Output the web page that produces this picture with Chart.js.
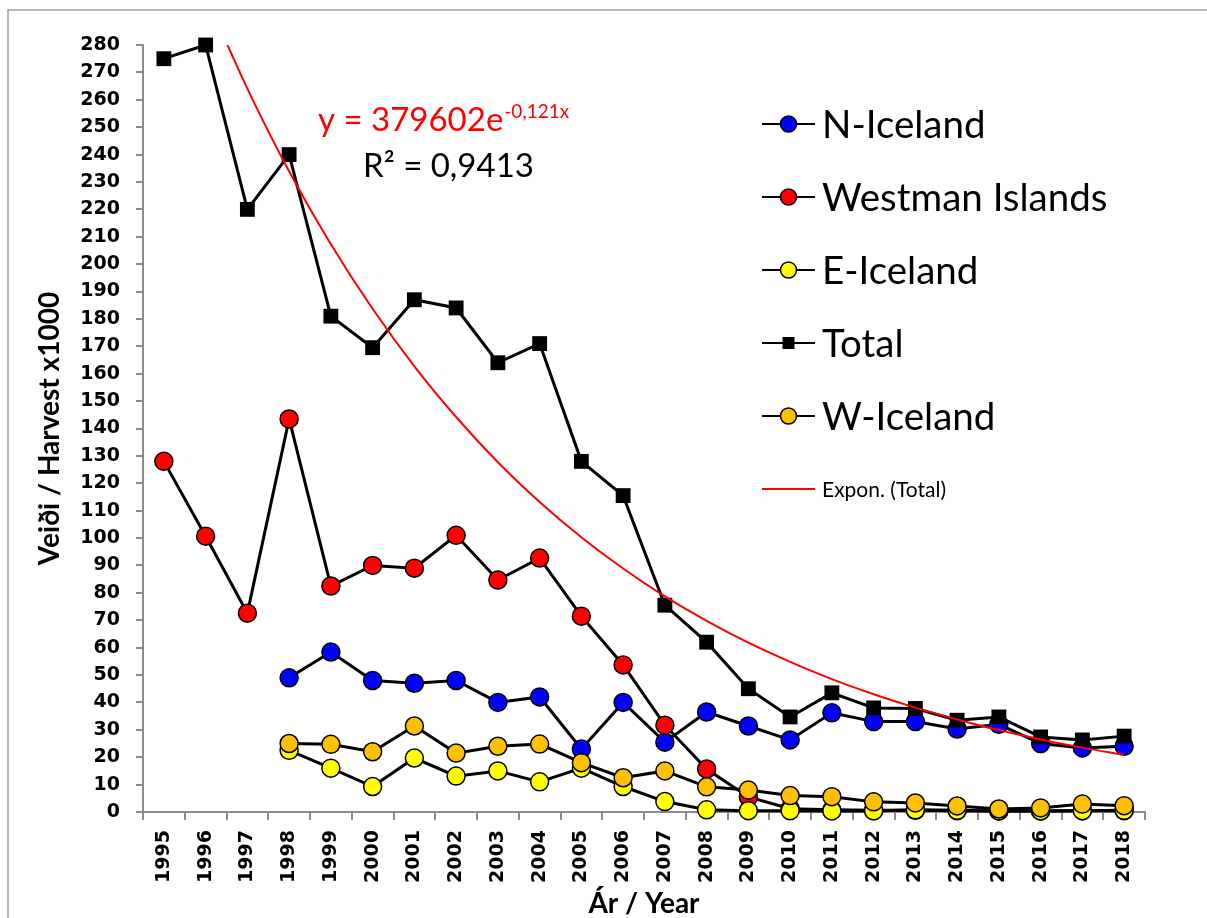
<!DOCTYPE html>
<html>
<head>
<meta charset="utf-8">
<title>Harvest by region</title>
<script src="https://cdn.jsdelivr.net/npm/chart.js@4.4.1/dist/chart.umd.min.js"></script>
<style>
  body { margin: 0; background: #fff; }
  #wrap { position: relative; width: 1207px; height: 918px; }
</style>
</head>
<body>
<div id="wrap"><canvas id="harvestChart" width="1207" height="918"></canvas></div>
<script>
// categories
const years = ['1995', '1996', '1997', '1998', '1999', '2000', '2001', '2002', '2003', '2004', '2005', '2006',
    '2007', '2008', '2009', '2010', '2011', '2012', '2013', '2014', '2015', '2016', '2017', '2018'];

// harvest x1000
const nIceland = [null, null, null, 49, 58.4, 48, 47, 48, 40, 42, 23, 40,
    25.5, 36.5, 31.4, 26.3, 36.2, 33, 33, 30.3, 32, 25, 23.4, 24];
const westman = [128, 100.7, 72.6, 143.5, 82.5, 90, 89, 101, 84.7, 92.7, 71.5, 53.7,
    31.7, 15.7, 5.5, 1.2, 0.8, 0.6, 0.6, 0.5, 0.4, 0.4, 0.5, 0.5];
const eIceland = [null, null, null, 22.5, 16, 9.3, 19.7, 13.1, 15, 11, 16, 9.3,
    3.8, 0.8, 0.5, 0.5, 0.4, 0.4, 0.8, 0.6, 0.4, 0.4, 0.5, 0.6];
const total = [275, 280, 220, 240, 181, 169.5, 187, 184, 164, 171, 128, 115.5,
    75.5, 62, 45, 34.7, 43.5, 38, 37.8, 33.5, 34.7, 27.4, 26.3, 27.7];
const wIceland = [null, null, null, 25, 24.7, 22, 31.4, 21.5, 24, 24.8, 18, 12.5,
    15, 9.2, 8, 6, 5.6, 3.7, 3.3, 2.2, 1.1, 1.5, 2.9, 2.3];
// exponential trend of Total as drawn (y = 379602e^-0,121x, in thousands)
const totalTrend = [null, 298.0, 264.1, 233.9, 207.3, 183.7, 162.7, 144.2, 127.7, 113.2, 100.3, 88.9,
    78.7, 69.8, 61.8, 54.8, 48.5, 43.0, 38.1, 33.8, 29.9, 26.5, 23.5, 20.8];

// y axis ticks
const yMin = 0;
const yMax = 280;
const yStep = 10;

const tickFont = { family: 'DejaVu Sans', size: 19, weight: 'bold' };
const titleFont = { family: 'Lato', size: 28, weight: 'bold', lineHeight: 1 };
const axisGray = '#8c8c8c';

function series(label, data, color, order, style) {
    const square = style === 'rect';
    return {
        label: label,
        data: data,
        order: order,
        clip: false,
        borderColor: '#000',
        borderWidth: 3,
        pointStyle: square ? 'rect' : 'circle',
        pointRadius: square ? 10.5 : 9,
        pointBackgroundColor: color,
        pointBorderColor: '#000',
        pointBorderWidth: square ? 0 : 1.5,
        tension: 0
    };
}

const datasets = [
    series('N-Iceland', nIceland, '#0000ff', 5),
    series('Westman Islands', westman, '#ff0000', 4),
    series('E-Iceland', eIceland, '#ffff00', 3),
    series('Total', total, '#000000', 2, 'rect'),
    series('W-Iceland', wIceland, '#ffc000', 1),
    {
        label: 'Expon. (Total)',
        data: totalTrend,
        order: 0,
        borderColor: '#ff0000',
        borderWidth: 2,
        pointRadius: 0,
        cubicInterpolationMode: 'monotone',
        clip: 0
    }
];

// frame, legend and equation drawn on the canvas
const extras = {
    id: 'extras',
    beforeDraw(chart) {
        const ctx = chart.ctx;
        ctx.save();
        ctx.fillStyle = '#fff';
        ctx.fillRect(0, 0, chart.width, chart.height);
        ctx.strokeStyle = '#a0a0a0';
        ctx.lineWidth = 1.5;
        ctx.beginPath();
        ctx.moveTo(8, chart.height);
        ctx.lineTo(8, 10);
        ctx.lineTo(chart.width, 10);
        ctx.stroke();
        ctx.restore();
    },
    afterDraw(chart) {
        const ctx = chart.ctx;
        ctx.save();

        // legend
        const x0 = 762, x1 = 815, tx = 822;
        let y = 124;
        chart.data.datasets.forEach(ds => {
            const trend = ds.pointRadius === 0;
            ctx.strokeStyle = ds.borderColor;
            ctx.lineWidth = 2;
            ctx.beginPath();
            ctx.moveTo(x0, y);
            ctx.lineTo(x1, y);
            ctx.stroke();
            const mx = (x0 + x1) / 2;
            if (!trend) {
                ctx.fillStyle = ds.pointBackgroundColor;
                if (ds.pointStyle === 'rect') {
                    ctx.fillRect(mx - 6, y - 6, 12, 12);
                } else {
                    ctx.beginPath();
                    ctx.arc(mx, y, 8, 0, Math.PI * 2);
                    ctx.fill();
                    ctx.lineWidth = 1.5;
                    ctx.strokeStyle = '#000';
                    ctx.stroke();
                }
            }
            ctx.fillStyle = '#000';
            ctx.textBaseline = 'alphabetic';
            if (trend) {
                ctx.font = '21px Lato';
                ctx.fillText(ds.label, tx, y + 8);
            } else {
                ctx.font = '38.5px Lato';
                ctx.fillText(ds.label, tx, y + 14);
            }
            y += 73;
        });

        // trend equation
        ctx.fillStyle = '#ff0000';
        ctx.font = '33px Lato';
        const eq = 'y = 379602e';
        ctx.fillText(eq, 318, 131);
        const w = ctx.measureText(eq).width;
        ctx.font = '19px Lato';
        ctx.fillText('-0,121x', 318 + w + 1, 118);
        ctx.fillStyle = '#000';
        ctx.font = '33px Lato';
        ctx.fillText('R² = 0,9413', 363, 177);

        ctx.restore();
    }
};

new Chart(document.getElementById('harvestChart'), {
    type: 'line',
    data: { labels: years, datasets: datasets },
    options: {
        responsive: false,
        animation: false,
        events: [],
        layout: { padding: { left: 0, right: 62, top: 45, bottom: 0 } },
        plugins: { legend: { display: false }, tooltip: { enabled: false } },
        scales: {
            x: {
                type: 'category',
                offset: true,
                grid: { display: true, drawOnChartArea: false, offset: true, color: axisGray, lineWidth: 2, tickLength: 8 },
                border: { color: axisGray, width: 2 },
                ticks: { color: '#000', font: tickFont, minRotation: 90, maxRotation: 90, autoSkip: false, padding: 10 },
                title: { display: true, text: 'Ár / Year', color: '#000', font: titleFont, padding: { top: 0, bottom: 0 } },
                afterFit(scale) { scale.height = 106; }
            },
            y: {
                min: yMin,
                max: yMax,
                grid: { display: true, drawOnChartArea: false, color: axisGray, lineWidth: 2, tickLength: 7 },
                border: { color: axisGray, width: 2 },
                ticks: { stepSize: yStep, color: '#000', font: tickFont, padding: 16, autoSkip: false },
                title: { display: true, text: 'Veiði / Harvest x1000', color: '#000', font: titleFont, padding: { top: 36, bottom: 0 } },
                afterFit(scale) { scale.width = 143; }
            }
        }
    },
    plugins: [extras]
});
</script>
</body>
</html>
